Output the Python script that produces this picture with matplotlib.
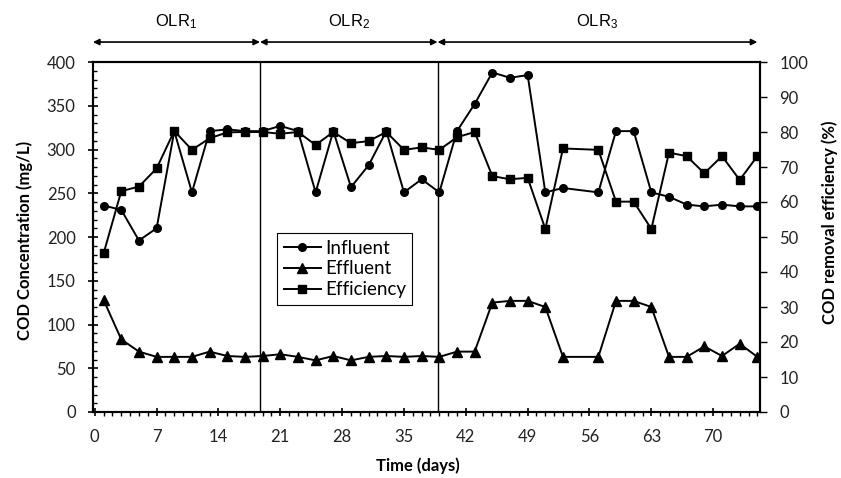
import matplotlib
matplotlib.use("Agg")
import matplotlib.pyplot as plt
from matplotlib.ticker import MultipleLocator
from matplotlib.lines import Line2D

# ---- data ----
days = [1, 3, 5, 7, 9, 11, 13, 15, 17, 19, 21, 23, 25, 27, 29, 31, 33, 35, 37, 39,
        41, 43, 45, 47, 49, 51, 53, 57, 59, 61, 63, 65, 67, 69, 71, 73, 75]
influent = [236, 231, 196, 210, 321, 251, 321, 323, 321, 321, 327, 321, 251, 321, 257, 282, 321, 251, 266, 251,
            321, 352, 388, 382, 385, 251, 256, 251, 321, 321, 251, 246, 237, 235, 237, 235, 235]
effluent = [128, 83, 69, 63, 63, 63, 69, 64, 63, 64, 66, 63, 59, 64, 59, 63, 64, 63, 64, 63,
            69, 69, 125, 127, 127, 120, 63, 63, 127, 127, 120, 63, 63, 75, 64, 78, 63]
efficiency = [45.3, 63.1, 64.4, 69.6, 80.3, 74.9, 78.2, 79.9, 80, 80, 79.5, 80, 76.3, 80, 76.8, 77.4, 80, 74.9, 75.6, 74.9,
              78.5, 80, 67.4, 66.5, 66.9, 52.3, 75.3, 74.9, 60.1, 60.1, 52.3, 74.1, 73.1, 68.2, 73.1, 66.3, 73.1]
phase_bounds = [-0.2, 18.7, 38.8, 75.0]
phase_labels = [r"$\mathregular{OLR_1}$", r"$\mathregular{OLR_2}$", r"$\mathregular{OLR_3}$"]

plt.rcParams['font.family'] = ['Lato', 'DejaVu Sans']

W, H = 841, 478
fig = plt.figure(figsize=(W / 100, H / 100), dpi=100)
L, R, T, B = 93, 760, 62, 412
ax = fig.add_axes([L / W, (H - B) / H, (R - L) / W, (B - T) / H])
ax2 = ax.twinx()

lw = 1.4
ax.plot(days, influent, color='black', lw=lw, marker='o', ms=5.5, label='Influent', zorder=3)
ax.plot(days, effluent, color='black', lw=lw, marker='^', ms=7, label='Effluent', zorder=3)
ax2.plot(days, efficiency, color='black', lw=lw, marker='s', ms=6, label='Efficiency', zorder=3)

ax.set_xlim(-0.2, 75.3)
ax.set_ylim(0, 400)
ax2.set_ylim(0, 100)

ax.xaxis.set_major_locator(MultipleLocator(7))
ax.xaxis.set_minor_locator(MultipleLocator(1))
ax.yaxis.set_major_locator(MultipleLocator(50))
ax.yaxis.set_minor_locator(MultipleLocator(10))
ax2.yaxis.set_major_locator(MultipleLocator(10))

for a in (ax, ax2):
    for s in a.spines.values():
        s.set_linewidth(1.5)
        s.set_color('black')

tl = 12
ax.tick_params(axis='x', which='major', direction='inout', length=6, width=1.2, labelsize=tl, pad=9)
ax.tick_params(axis='x', which='minor', direction='out', length=3, width=1.0)
ax.tick_params(axis='y', which='major', direction='inout', length=7, width=1.2, labelsize=tl, pad=9)
ax.tick_params(axis='y', which='minor', direction='in', length=3, width=1.0)
ax2.tick_params(axis='y', which='major', direction='out', length=5, width=1.0, labelsize=tl, pad=9)
for a in (ax, ax2):
    for t in a.get_xticklabels() + a.get_yticklabels():
        t.set_color('#222222')

lab_fs = 12
fig.text(418 / W, 1 - 466 / H, 'Time (days)', fontsize=lab_fs, fontweight='bold', ha='center', va='center')
fig.text(25 / W, 1 - 240 / H, 'COD Concentration (mg/L)', fontsize=lab_fs, fontweight='bold',
         ha='center', va='center', rotation=90)
fig.text(830 / W, 1 - 222 / H, 'COD removal efficiency (%)', fontsize=lab_fs, fontweight='bold',
         ha='center', va='center', rotation=90)

# phase dividers
for xb in phase_bounds[1:-1]:
    ax.axvline(xb, color='black', lw=1.0, zorder=2)

# phase arrows and labels
for i in range(3):
    x0, x1 = phase_bounds[i], phase_bounds[i + 1]
    ax.annotate('', xy=(x1, 1.057), xytext=(x0, 1.057), xycoords=('data', 'axes fraction'),
                textcoords=('data', 'axes fraction'),
                arrowprops=dict(arrowstyle='<|-|>', color='black', lw=1.2, mutation_scale=9,
                                shrinkA=0, shrinkB=0), annotation_clip=False)
    ax.text((x0 + x1) / 2, 1.115, phase_labels[i], transform=ax.get_xaxis_transform(),
            ha='center', va='center', fontsize=12, family='Liberation Sans', clip_on=False)

handles = [Line2D([], [], color='black', lw=lw, marker='o', ms=5.5),
           Line2D([], [], color='black', lw=lw, marker='^', ms=7),
           Line2D([], [], color='black', lw=lw, marker='s', ms=6)]
leg = ax2.legend(handles, ['Influent', 'Effluent', 'Efficiency'], loc='upper left',
                 bbox_to_anchor=(277 / W, (H - 233) / H), bbox_transform=fig.transFigure,
                 fancybox=False, framealpha=1, edgecolor='black', fontsize=13.5,
                 handlelength=2.0, handletextpad=0.2, borderpad=0.35, labelspacing=0.2,
                 borderaxespad=0)
leg.get_frame().set_linewidth(0.8)

fig.savefig('out.png', dpi=100)
